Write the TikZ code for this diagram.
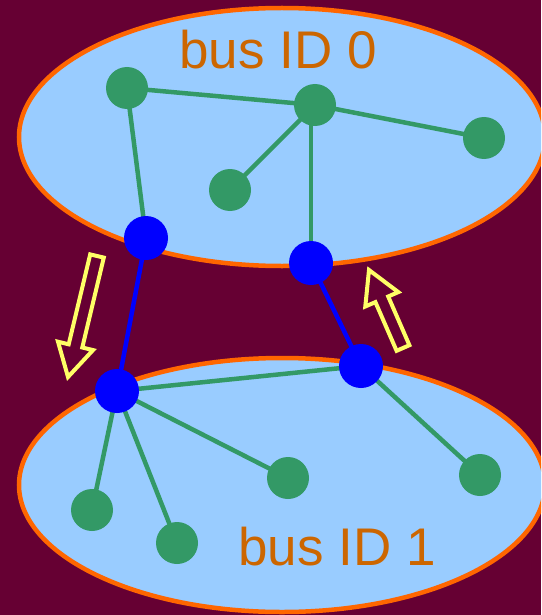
\documentclass[tikz,border=0pt]{standalone}
\usepackage{fontspec}
\setmainfont{Liberation Sans}
\definecolor{bgwine}{HTML}{660033}
\definecolor{busfill}{HTML}{99CCFF}
\definecolor{busline}{HTML}{FF6600}
\definecolor{labelc}{HTML}{CC6600}
\definecolor{hostg}{HTML}{339966}
\definecolor{bridgeb}{HTML}{0000FF}
\definecolor{arrowy}{HTML}{FFFF66}
\pgfdeclarelayer{links}
\pgfdeclarelayer{buses}
\pgfsetlayers{buses,links,main}
\begin{document}
\begin{tikzpicture}[x=1pt,y=-1pt,
  bus/.style={fill=busfill,draw=busline,line width=4.5pt},
  host/.style={circle,fill=hostg,inner sep=0pt,minimum size=42pt},
  bridge/.style={circle,fill=bridgeb,inner sep=0pt,minimum size=44pt},
  glink/.style={draw=hostg,line width=4.5pt},
  blink/.style={draw=bridgeb,line width=4.5pt},
  flowarrow/.style={draw=arrowy,line width=4pt,line join=miter},
  buslabel/.style={text=labelc,font=\fontsize{53}{60}\selectfont,anchor=base,inner sep=0pt}]
  \useasboundingbox (0,0) rectangle (541,615);
  \begin{pgfonlayer}{buses}
    \clip (0,0) rectangle (541,615);
    \fill[bgwine] (0,0) rectangle (541,615);
    \draw[bus] (282,137) ellipse [x radius=263, y radius=129];
    \draw[bus] (282,485) ellipse [x radius=263, y radius=127];
  \end{pgfonlayer}

  \node[buslabel] (lab0) at (278,69) {bus ID 0};
  \node[buslabel] (lab1) at (337,565) {bus ID 1};

  % devices on bus 0
  \node[host] (a) at (127,88) {};
  \node[host] (b) at (315,105) {};
  \node[host] (c) at (484,138) {};
  \node[host] (d) at (230,190) {};
  \node[bridge] (e) at (146,238) {};
  \node[bridge] (f) at (311,263) {};

  % devices on bus 1
  \node[bridge] (g) at (117,391) {};
  \node[bridge] (h) at (361,366) {};
  \node[host] (i) at (288,478) {};
  \node[host] (j) at (480,475) {};
  \node[host] (k) at (92,510) {};
  \node[host] (l) at (177,543) {};

  % links, kept behind the device discs
  \begin{pgfonlayer}{links}
    \path[glink] (a.center) -- (b.center);
    \path[glink] (b.center) -- (c.center);
    \path[glink] (b.center) -- (d.center);
    \path[glink] (f.center) -- (f.center |- b.center);
    \path[glink] (a.center) -- (e.center);
    \path[blink] (e.center) -- (g.center);
    \path[blink] (f.center) -- (h.center);
    \path[glink] (g.center) -- (h.center);
    \path[glink] (g.center) -- (i.center);
    \path[glink] (g.center) -- (k.center);
    \path[glink] (g.center) -- (l.center);
    \path[glink] (h.center) -- (j.center);
  \end{pgfonlayer}

  % hollow arrows showing the direction of traffic
  \draw[flowarrow] (103.8,257.6) -- (82.3,347.5) -- (93.0,350.1) -- (68,377)
    -- (58.0,341.7) -- (68.7,344.3) -- (90.2,254.4) -- cycle;
  \draw[flowarrow] (409.4,345.2) -- (388.2,296.5) -- (398.3,292.1) -- (369,270)
    -- (365.3,306.5) -- (375.4,302.1) -- (396.6,350.8) -- cycle;
\end{tikzpicture}
\end{document}
